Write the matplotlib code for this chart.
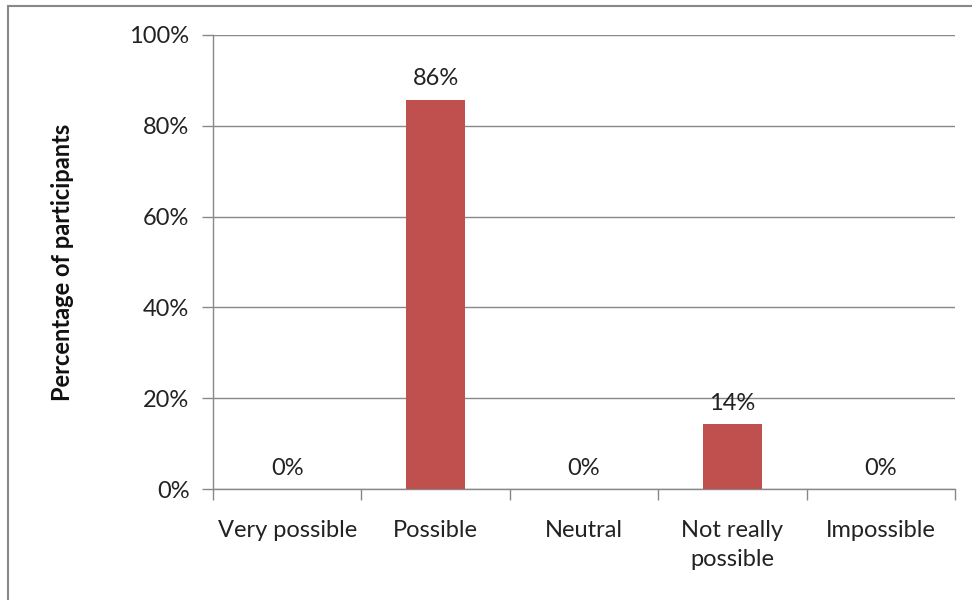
import matplotlib
matplotlib.use("Agg")
import matplotlib.pyplot as plt
from matplotlib.patches import Rectangle

categories = ["Very possible", "Possible", "Neutral", "Not really\npossible", "Impossible"]
values = [0, 85.7, 0, 14.3, 0]
yticks = [0, 20, 40, 60, 80, 100]
ytick_labels = ["0%", "20%", "40%", "60%", "80%", "100%"]

plt.rcParams['font.family'] = ['Lato', 'DejaVu Sans']

fig = plt.figure(figsize=(9.72, 6.0), dpi=100)
W, H = 972, 600
ax = fig.add_axes([213 / W, 1 - 489 / H, (955 - 213) / W, (489 - 35) / H])

# figure border
fig.patches.append(Rectangle((8 / W, -0.05), 1.2, 1 - 6 / H + 0.05, transform=fig.transFigure,
                             fill=False, edgecolor='#888888', linewidth=1.5))

FS = 17
x = list(range(len(categories)))
ax.bar(x, values, width=0.40, color='#C0504D', zorder=3)
for xi, v in zip(x, values):
    ax.text(xi, v + 2.3, f"{v:.0f}%", ha='center', va='bottom', fontsize=FS, color='#222222')

ax.set_xlim(-0.5, len(categories) - 0.5)
ax.set_ylim(0, 100)
ax.set_yticks(yticks)
ax.set_yticklabels(ytick_labels, fontsize=FS, color='#222222')
ax.set_xticks(x)
ax.set_xticklabels(categories, fontsize=FS, color='#222222', linespacing=1.5)
ax.set_xticks([i - 0.5 for i in range(len(categories) + 1)], minor=True)
ax.tick_params(axis='x', which='major', length=0, pad=22)
ax.tick_params(axis='x', which='minor', length=8, color='#888888', width=1)
ax.tick_params(axis='y', length=8, color='#888888', width=1, pad=9)

ax.grid(axis='y', color='#888888', linewidth=1, zorder=0)
for s in ['top', 'right']:
    ax.spines[s].set_visible(False)
for s in ['left', 'bottom']:
    ax.spines[s].set_color('#888888')
    ax.spines[s].set_linewidth(1)

ax.set_ylabel("Percentage of participants", fontsize=FS, fontweight='bold', labelpad=40, color='#111111')

fig.savefig("out.png", dpi=100)
